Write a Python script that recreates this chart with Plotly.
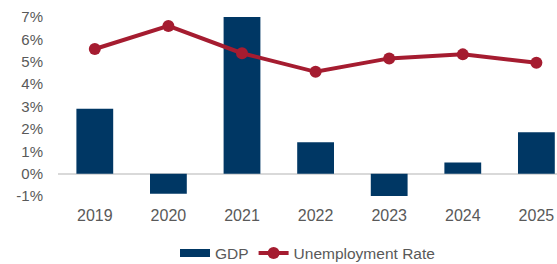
import plotly.graph_objects as go

years = ["2019", "2020", "2021", "2022", "2023", "2024", "2025"]
gdp = [2.9, -0.9, 7.0, 1.4, -1.0, 0.5, 1.85]
unemployment = [5.57, 6.6, 5.38, 4.55, 5.15, 5.33, 4.96]
y_ticks = [-1, 0, 1, 2, 3, 4, 5, 6, 7]
y_tick_labels = [f"{v}%" for v in y_ticks]

BAR_COLOR = "#003764"
LINE_COLOR = "#A51C30"
TEXT_COLOR = "#595959"

fig = go.Figure()
fig.add_trace(go.Bar(
    x=years, y=gdp, name="GDP",
    marker=dict(color=BAR_COLOR, line=dict(width=0)),
    width=0.5, showlegend=False,
))
# legend entry for GDP drawn as a wide flat swatch, as in the reference
fig.add_trace(go.Scatter(
    x=[None], y=[None], name="GDP", mode="lines",
    line=dict(color=BAR_COLOR, width=8),
))
fig.add_trace(go.Scatter(
    x=years, y=unemployment, name="Unemployment Rate",
    mode="lines+markers",
    line=dict(color=LINE_COLOR, width=4),
    marker=dict(color=LINE_COLOR, size=12),
))

fig.update_layout(
    width=557, height=264,
    margin=dict(l=58, r=0, t=17, b=68),
    paper_bgcolor="white", plot_bgcolor="white",
    font=dict(family="Liberation Sans, Arial, sans-serif", size=15, color=TEXT_COLOR),
    showlegend=True,
    legend=dict(
        orientation="h", x=0.5, xanchor="center",
        yref="container", y=0.04, yanchor="middle",
        font=dict(size=15.5, color=TEXT_COLOR),
        traceorder="normal",
    ),
)
fig.update_xaxes(
    type="category", range=[-0.5, 6.28], automargin=False,
    showgrid=False, showline=False, zeroline=False,
    ticks="", ticklabelstandoff=8,
    tickfont=dict(size=16, color=TEXT_COLOR),
)
fig.update_yaxes(
    range=[-1, 7], tickvals=y_ticks, ticktext=y_tick_labels, automargin=False,
    showgrid=False, showline=False,
    zeroline=True, zerolinecolor="#D9D9D9", zerolinewidth=2,
    ticks="", ticklabelstandoff=14,
    tickfont=dict(size=15, color=TEXT_COLOR),
)

fig.write_html(
    "out.html",
    config={"displayModeBar": False},
    post_script="document.body.style.margin='0';document.body.style.padding='0';",
)
